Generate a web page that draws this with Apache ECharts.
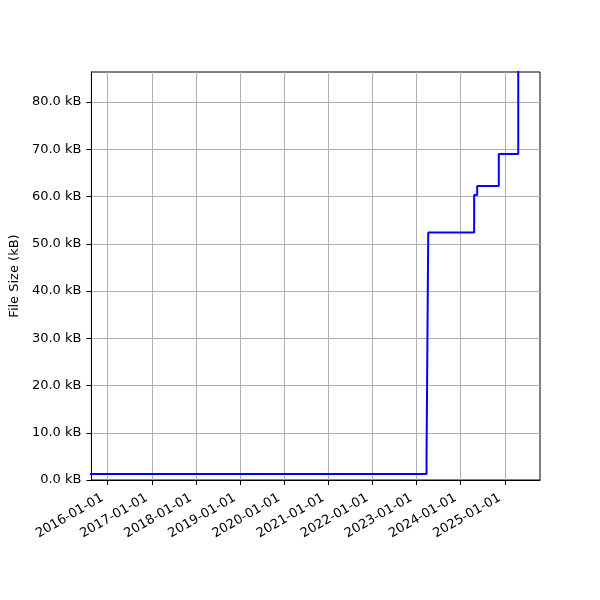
<!DOCTYPE html>
<html>
<head>
<meta charset="utf-8">
<script src="https://cdn.jsdelivr.net/npm/echarts@6/dist/echarts.min.js"></script>
<style>
  html, body { margin: 0; padding: 0; background: #fff; }
  #chart { width: 600px; height: 600px; }
</style>
</head>
<body>
<div id="chart"></div>
<script>
// step points (value holds until the next date)
const dates = ['2015-06-01', '2023-03-25', '2023-04-08', '2024-04-22', '2024-05-17', '2024-11-12', '2025-04-22']
const sizes = [1.27, 5.3, 52.4, 60.3, 62.2, 69.0, 95]
const xTickLabels = ['2016-01-01', '2017-01-01', '2018-01-01', '2019-01-01', '2020-01-01',
  '2021-01-01', '2022-01-01', '2023-01-01', '2024-01-01', '2025-01-01']
const yTicks = [0, 10, 20, 30, 40, 50, 60, 70, 80]

const toTime = (s) => new Date(s + 'T00:00:00Z').getTime()
const pad = (n) => (n < 10 ? '0' : '') + n
const fmtDate = (v) => {
  const d = new Date(v)
  return d.getUTCFullYear() + '-' + pad(d.getUTCMonth() + 1) + '-' + pad(d.getUTCDate())
}

const xTicks = xTickLabels.map(toTime)
const lineData = dates.map((d, i) => [toTime(d), sizes[i]])
const font = 'DejaVu Sans'

let myChart = echarts.init(document.getElementById('chart'))
let option = {
  animation: false,
  textStyle: { fontFamily: font },
  grid: {
    left: 90,
    right: 60,
    top: 72,
    bottom: 120,
    show: true,
    borderColor: '#000',
    borderWidth: 1,
    backgroundColor: 'transparent'
  },
  xAxis: {
    type: 'value',
    min: toTime('2015-08-20'),
    max: toTime('2025-10-19'),
    axisLine: { show: true, onZero: false, lineStyle: { color: '#000', width: 1 } },
    axisTick: { show: true, length: 5, customValues: xTicks, lineStyle: { color: '#000', width: 1 } },
    axisLabel: {
      customValues: xTicks,
      rotate: 30,
      margin: 14,
      padding: [0, 6, 0, 0],
      color: '#000',
      fontSize: 13,
      fontFamily: font,
      formatter: (v) => fmtDate(v)
    },
    splitLine: { show: true, lineStyle: { color: '#b0b0b0', width: 1 } }
  },
  yAxis: {
    type: 'value',
    min: 0,
    max: 86.35,
    name: 'File Size (kB)',
    nameLocation: 'middle',
    nameGap: 65,
    nameTextStyle: { color: '#000', fontSize: 13, fontFamily: font },
    axisLine: { show: true, lineStyle: { color: '#000', width: 1 } },
    axisTick: { show: true, length: 5, customValues: yTicks, lineStyle: { color: '#000', width: 1 } },
    axisLabel: {
      customValues: yTicks,
      margin: 10,
      color: '#000',
      fontSize: 13,
      fontFamily: font,
      formatter: (v) => v.toFixed(1) + ' kB'
    },
    splitLine: { show: true, lineStyle: { color: '#b0b0b0', width: 1 } }
  },
  series: [{
    type: 'line',
    step: 'end',
    data: lineData,
    showSymbol: false,
    clip: true,
    lineStyle: { color: '#0000ff', width: 2 }
  }]
}
myChart.setOption(option)
</script>
</body>
</html>
